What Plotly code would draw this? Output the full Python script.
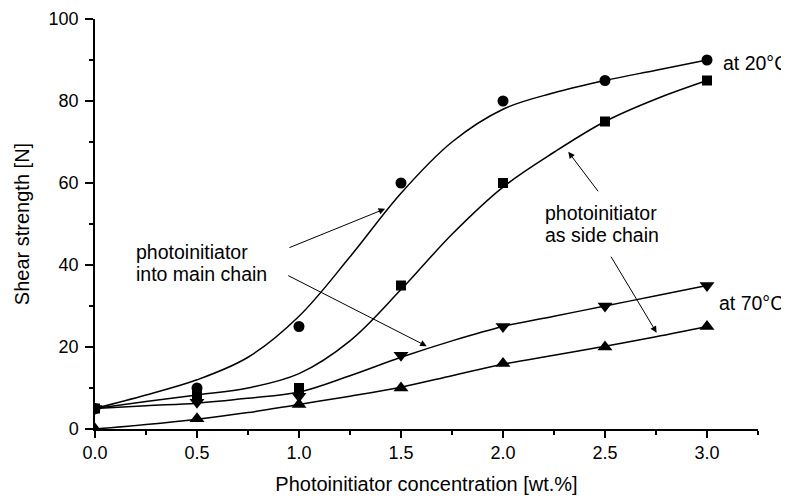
import plotly.graph_objects as go

# measured points
x_pts = [0.0, 0.5, 1.0, 1.5, 2.0, 2.5, 3.0]
circle_20 = [5, 10, 25, 60, 80, 85, 90]
square_20 = [5, 8.5, 10, 35, 60, 75, 85]
downtri_70 = [5, 6.5, 8, 18, 25, 30, 35]
uptri_70 = [0, 2.5, 6, 10, 16, 20, 25]

# fitted curves
x_fit = [0, 0.25, 0.5, 0.75, 1.0, 1.25, 1.5, 1.75, 2.0, 2.25, 2.5, 2.75, 3.0]
circle_fit = [5, 8.3, 12, 17.5, 27.5, 42, 57.5, 70, 78, 82, 85, 87.5, 90]
square_fit = [5, 6.7, 8.3, 10, 13.5, 21.5, 34, 47.5, 59, 67.5, 75, 80.5, 85]
downtri_fit = [5, 5.7, 6.3, 7.5, 9, 13, 17.5, 21.5, 25, 27.5, 30, 32.5, 35]
uptri_fit = [0, 1.1, 2.4, 4, 6, 8, 10.2, 13, 15.8, 18, 20.2, 22.5, 25]

x_ticks = [0.0, 0.5, 1.0, 1.5, 2.0, 2.5, 3.0]
x_ticklabels = ["0.0", "0.5", "1.0", "1.5", "2.0", "2.5", "3.0"]
y_ticks = [0, 20, 40, 60, 80, 100]

FONT = "Arial, Liberation Sans, sans-serif"

fig = go.Figure()
for yf in [circle_fit, square_fit, downtri_fit, uptri_fit]:
    fig.add_trace(go.Scatter(x=x_fit, y=yf, mode="lines",
                             line=dict(color="black", width=1.5, shape="spline", smoothing=1.0),
                             showlegend=False, hoverinfo="skip"))

for yv, sym, sz in [(circle_20, "circle", 11), (square_20, "square", 10),
                    (downtri_70, "triangle-down", 13), (uptri_70, "triangle-up", 13)]:
    fig.add_trace(go.Scatter(x=x_pts, y=yv, mode="markers",
                             marker=dict(symbol=sym, size=sz, color="black", line=dict(width=0)),
                             showlegend=False))

anns = []
for tx, ty, hx, hy in [(0.946, 44.1, 1.422, 53.7), (0.94, 37.6, 1.626, 20.2),
                       (2.472, 57.6, 2.32, 67.6), (2.525, 42.4, 2.753, 23.5)]:
    anns.append(dict(x=hx, y=hy, ax=tx, ay=ty, xref="x", yref="y", axref="x", ayref="y",
                     showarrow=True, arrowhead=2, arrowsize=1.3, arrowwidth=1, arrowcolor="black",
                     text=""))

for txt, x, y in [("photoinitiator", 0.196, 43.2),
                  ("into main chain", 0.196, 37.8),
                  ("photoinitiator", 2.201, 52.7),
                  ("as side chain", 2.201, 47.2),
                  ("at 20°C", 3.073, 89.3),
                  ("at 70°C", 3.054, 30.7)]:
    anns.append(dict(x=x, y=y, xref="x", yref="y", text=txt, showarrow=False,
                     xanchor="left", yanchor="middle", align="left", borderpad=0,
                     font=dict(family=FONT, size=19.5, color="black")))

fig.update_layout(
    width=781, height=491,
    margin=dict(l=87, r=31, t=11, b=70),
    paper_bgcolor="white", plot_bgcolor="white",
    font=dict(family=FONT, color="black"),
    annotations=anns,
    xaxis=dict(range=[0, 3.25], tickvals=x_ticks, ticktext=x_ticklabels, automargin=False,
               showline=True, linecolor="black", linewidth=1.5, showgrid=False, zeroline=False,
               ticks="outside", ticklen=7, tickwidth=1.5, tickcolor="black",
               minor=dict(dtick=0.25, ticks="outside", ticklen=4, tickwidth=1.5, tickcolor="black", showgrid=False),
               tickfont=dict(family=FONT, size=18),
               title=dict(text="Photoinitiator concentration [wt.%]", font=dict(family=FONT, size=20), standoff=15)),
    yaxis=dict(range=[0, 100], tickvals=y_ticks, automargin=False,
               showline=True, linecolor="black", linewidth=1.5, showgrid=False, zeroline=False,
               ticks="outside", ticklen=8, tickwidth=1.5, tickcolor="black", ticklabelstandoff=3,
               minor=dict(dtick=10, ticks="outside", ticklen=4, tickwidth=1.5, tickcolor="black", showgrid=False),
               tickfont=dict(family=FONT, size=18),
               title=dict(text="Shear strength [N]", font=dict(family=FONT, size=20), standoff=14)),
)

fig.write_html("out.html")
